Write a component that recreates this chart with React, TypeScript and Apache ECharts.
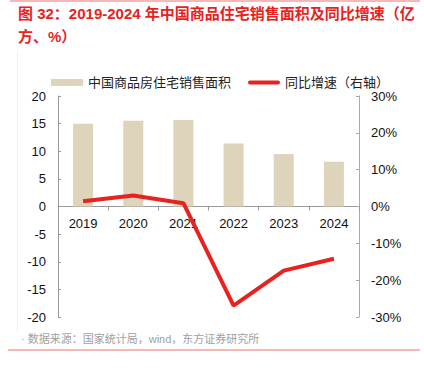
import React, { useEffect, useRef } from "react";
import * as echarts from "echarts";

const years = ["2019", "2020", "2021", "2022", "2023", "2024"];
const salesArea = [15.0, 15.5, 15.65, 11.4, 9.5, 8.1];
const yoyGrowth = [1.4, 3.0, 0.9, -26.9, -17.4, -14.2];
const titleLine1 = "图 32：2019-2024 年中国商品住宅销售面积及同比增速（亿";
const titleLine2 = "方、%）";
const sourceText = "· 数据来源：国家统计局，wind，东方证券研究所";
const barName = "中国商品房住宅销售面积";
const lineName = "同比增速（右轴）";

const FONT = '"Liberation Sans", "Noto Sans CJK SC", sans-serif';
const RED = "#E8231F";

export default function App() {
  const ref = useRef<HTMLDivElement>(null);
  useEffect(() => {
    if (!ref.current) return;
    const chart = echarts.init(ref.current, undefined, { renderer: "svg" });
    chart.setOption({
      animation: false,
      backgroundColor: "#fff",
      textStyle: { fontFamily: FONT },
      graphic: [
        { type: "line", shape: { x1: 10, y1: 1, x2: 420, y2: 1 }, style: { stroke: "#F07070", lineWidth: 1 } },
        { type: "line", shape: { x1: 8, y1: 350, x2: 420, y2: 350 }, style: { stroke: "#F07070", lineWidth: 1 } },
        { type: "line", shape: { x1: 17.5, y1: 50, x2: 17.5, y2: 332 }, style: { stroke: "#F2F2F2", lineWidth: 1 } },
        {
          type: "text", left: 18, top: 6,
          style: { text: titleLine1, fill: RED, font: `bold 15px ${FONT}` },
        },
        {
          type: "text", left: 18, top: 29,
          style: { text: titleLine2, fill: RED, font: `bold 15px ${FONT}` },
        },
        {
          type: "text", left: 21, top: 333,
          style: { text: sourceText, fill: "#A0A0A0", font: `11px ${FONT}` },
        },
      ],
      legend: {
        left: 46,
        top: 71,
        itemWidth: 32,
        itemHeight: 7,
        itemGap: 17,
        textStyle: { fontSize: 13, color: "#222", fontFamily: FONT },
        data: [
          { name: barName, icon: "rect" },
          {
            name: lineName,
            icon: "path://M0,0L32,0L32,0.01Z M2,1.5H30A2,2 0 0 1 30,5.5H2A2,2 0 0 1 2,1.5Z M0,6.99L32,6.99L32,7Z",
          },
        ],
      },
      grid: { left: 58, right: 65, top: 96, bottom: 59 },
      xAxis: {
        type: "category",
        data: years,
        offset: -110.5,
        axisLine: { onZero: false, lineStyle: { color: "#999" } },
        axisTick: { show: true, inside: false, length: 4, lineStyle: { color: "#999" } },
        axisLabel: { fontSize: 13, color: "#111", margin: 10, fontFamily: FONT },
      },
      yAxis: [
        {
          type: "value", min: -20, max: 20, interval: 5,
          splitLine: { show: false },
          axisLine: { show: true, lineStyle: { color: "#999" } },
          axisTick: { show: true, inside: true, length: 3, lineStyle: { color: "#999" } },
          axisLabel: { fontSize: 13, color: "#111", margin: 12, fontFamily: FONT },
        },
        {
          type: "value", min: -30, max: 30, interval: 10, position: "right",
          splitLine: { show: false },
          axisLine: { show: true, lineStyle: { color: "#aaa" } },
          axisTick: { show: true, inside: true, length: 3, lineStyle: { color: "#aaa" } },
          axisLabel: { fontSize: 13, color: "#111", margin: 12, formatter: "{value}%", fontFamily: FONT },
        },
      ],
      series: [
        {
          name: barName, type: "bar", data: salesArea, barWidth: 20,
          itemStyle: { color: "#DED4BC" },
        },
        {
          name: lineName, type: "line", yAxisIndex: 1, data: yoyGrowth,
          symbol: "none", lineStyle: { color: RED, width: 4 }, itemStyle: { color: RED },
        },
      ],
    });
    return () => chart.dispose();
  }, []);
  return <div ref={ref} style={{ width: 424, height: 376, position: "absolute", left: 0, top: 0 }} />;
}
